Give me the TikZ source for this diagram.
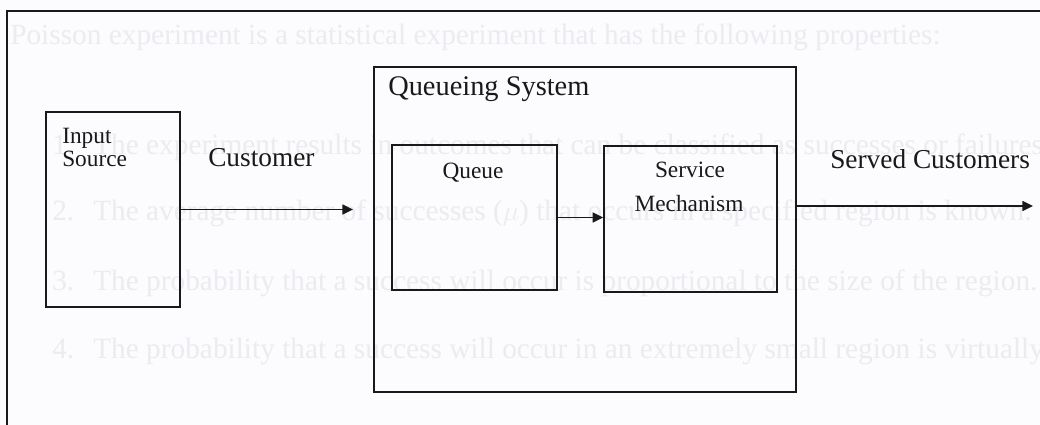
\documentclass[tikz,border=0pt]{standalone}
\usepackage{fontspec}
\setmainfont{Liberation Serif}
\usetikzlibrary{arrows.meta}
\definecolor{paper}{RGB}{252,252,254}
\definecolor{ghost}{RGB}{235,235,240}
\definecolor{ink}{RGB}{25,25,25}
\begin{document}
\begin{tikzpicture}[x=0.75pt,y=-0.75pt,
  frame/.style={draw=ink, line width=1.1pt},
  box/.style={draw=ink, line width=1.1pt, rectangle, inner sep=0pt},
  lbl/.style={inner sep=0pt, anchor=base west, text=ink, font=\fontsize{17.5}{20}\selectfont},
  biglbl/.style={inner sep=0pt, anchor=base west, text=ink, font=\fontsize{20.5}{24}\selectfont},
  ghosttxt/.style={inner sep=0pt, anchor=base west, text=ghost, font=\fontsize{22}{26}\selectfont},
  arr/.style={draw=ink, line width=1.1pt, -{Triangle[length=8pt,width=7.5pt]}}]
\useasboundingbox (0,0) rectangle (1040,425);
\clip (0,0) rectangle (1040,425);
\fill[paper] (0,0) rectangle (1040,425);

% faint show-through text
\node[ghosttxt] (g0) at (10,44) {Poisson experiment is a statistical experiment that has the following properties:};
\node[ghosttxt] (n1) at (52,154) {1.};
\node[ghosttxt] (g1) at (93,154) {The experiment results in outcomes that can be classified as successes or failures.};
\node[ghosttxt] (n2) at (52,220) {2.};
\node[ghosttxt] (g2) at (93,220) {The average number of successes ($\mu$) that occurs in a specified region is known.};
\node[ghosttxt] (n3) at (52,290) {3.};
\node[ghosttxt] (g3) at (93,290) {The probability that a success will occur is proportional to the size of the region.};
\node[ghosttxt] (n4) at (52,358) {4.};
\node[ghosttxt] (g4) at (93,358) {The probability that a success will occur in an extremely small region is virtually zero.};

% outer frame
\coordinate (fbl) at (7,425);
\coordinate (ftl) at (7,11);
\coordinate (ftr) at (1040,11);
\draw[frame] (fbl) -- (ftl) -- (ftr);

% boxes
\node[box, minimum width=100.5pt, minimum height=146.25pt] (input) at (113,209.5) {};
\node[box, minimum width=316.5pt, minimum height=243.75pt] (qs) at (585,229.5) {};
\node[box, minimum width=123.75pt, minimum height=108.75pt] (queue) at (474.5,217.5) {};
\node[box, minimum width=129.75pt, minimum height=109.5pt] (service) at (690.5,219) {};

% labels
\node[lbl] (tin) at (62,143) {Input};
\node[lbl] (tsrc) at (62,166) {Source};
\node[biglbl] (tcust) at (208,166) {Customer};
\node[biglbl, font=\fontsize{21.3}{25}\selectfont] (tqs) at (388,95) {Queueing System};
\node[lbl, anchor=base] (tq) at (473,178) {Queue};
\node[lbl, anchor=base] (tsv) at (690,177) {Service};
\node[lbl, anchor=base] (tmech) at (689,211) {Mechanism};
\node[biglbl] (tserved) at (830,168) {Served Customers};

% connectors
\coordinate (cend) at (353,209.5);
\draw[arr] (input.east) -- (cend);
\draw[arr] (queue.east) -- (queue.east -| service.west);
\coordinate (sstart) at (796,206);
\coordinate (send) at (1033,206);
\draw[arr] (sstart) -- (send);
\end{tikzpicture}
\end{document}
